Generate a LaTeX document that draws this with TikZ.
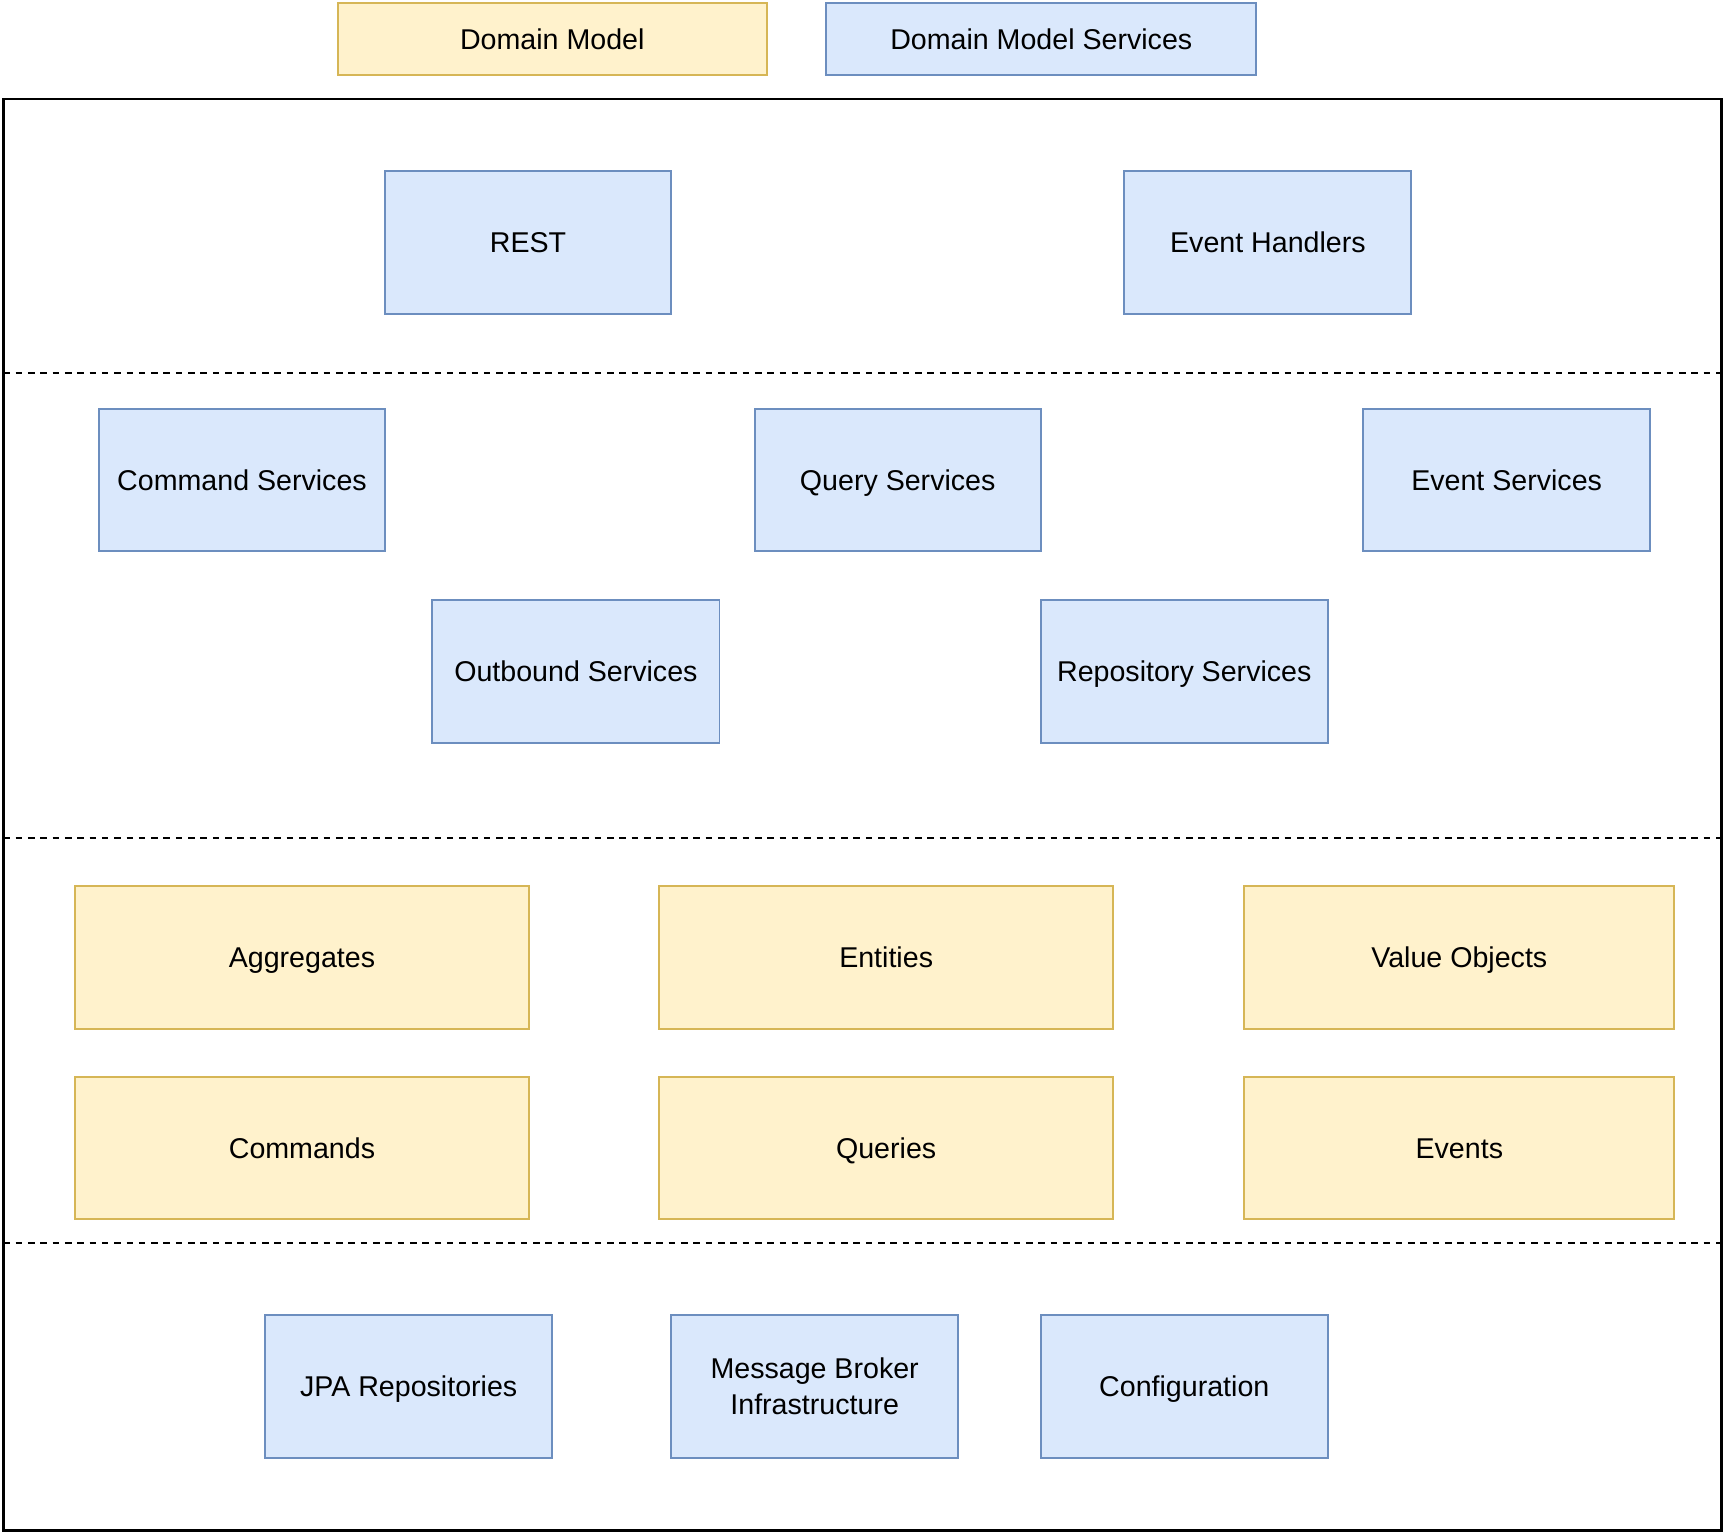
\documentclass[tikz,border=0pt]{standalone}
\usepackage{fontspec}
\setmainfont{Liberation Sans}
\newcommand\mystrut{\vrule width 0pt height 12.3pt depth 3pt\relax}
\begin{document}
\begin{tikzpicture}[x=0.5pt,y=-0.5pt,
  base/.style={draw, line width=0.9pt, inner sep=0pt, align=center, font=\fontsize{13}{16}\selectfont},
  bluebox/.style={base, fill=blueFill, draw=blueLine},
  yellowbox/.style={base, fill=yellowFill, draw=yellowLine},
  sep/.style={line width=0.8pt, dash pattern=on 3pt off 2.6pt}]
\definecolor{blueFill}{HTML}{DAE8FC}
\definecolor{blueLine}{HTML}{6C8EBF}
\definecolor{yellowFill}{HTML}{FFF2CC}
\definecolor{yellowLine}{HTML}{D6B656}
\useasboundingbox (0,0) rectangle (1568,1394);
\newcommand\boxat[7]{\node[#1, minimum width={(#5-#3)*0.5pt}, minimum height={(#6-#4)*0.5pt}] (#2) at ({(#3+#5)/2},{(#4+#6)/2}) {\mystrut #7};}
% legend
\boxat{yellowbox}{legDM}{307}{3}{697}{68}{Domain Model}
\boxat{bluebox}{legDMS}{751}{3}{1142}{68}{Domain Model Services}
% outer frame
\node[draw, line width=1.2pt, minimum width={1562*0.5pt}, minimum height={1301*0.5pt}, inner sep=0pt] (frame) at (784,740.5) {};
\coordinate (l1) at (3,339); \coordinate (r1) at (1565,339);
\coordinate (l2) at (3,762); \coordinate (r2) at (1565,762);
\coordinate (l3) at (3,1130); \coordinate (r3) at (1565,1130);
\draw[sep] (l1) -- (r1);
\draw[sep] (l2) -- (r2);
\draw[sep] (l3) -- (r3);
% layer 1
\boxat{bluebox}{rest}{350}{155}{610}{285}{REST}
\boxat{bluebox}{evh}{1022}{155}{1283}{285}{Event Handlers}
% layer 2
\boxat{bluebox}{cmds}{90}{372}{350}{501}{Command Services}
\boxat{bluebox}{qs}{686}{372}{946}{501}{Query Services}
\boxat{bluebox}{evs}{1239}{372}{1500}{501}{Event Services}
\boxat{bluebox}{obs}{393}{545}{654}{675}{Outbound Services}
\boxat{bluebox}{reps}{946}{545}{1207}{675}{Repository Services}
% layer 3
\boxat{yellowbox}{agg}{68}{805}{481}{935}{Aggregates}
\boxat{yellowbox}{ent}{599}{805}{1012}{935}{Entities}
\boxat{yellowbox}{vo}{1131}{805}{1522}{935}{Value Objects}
\boxat{yellowbox}{cmd}{68}{979}{481}{1108}{Commands}
\boxat{yellowbox}{qry}{599}{979}{1012}{1108}{Queries}
\boxat{yellowbox}{evt}{1131}{979}{1522}{1108}{Events}
% layer 4
\boxat{bluebox}{jpa}{241}{1195}{502}{1325}{JPA Repositories}
\boxat{bluebox}{mbi}{610}{1195}{871}{1325}{Message Broker\\\mystrut Infrastructure}
\boxat{bluebox}{conf}{946}{1195}{1207}{1325}{Configuration}
\end{tikzpicture}
\end{document}
